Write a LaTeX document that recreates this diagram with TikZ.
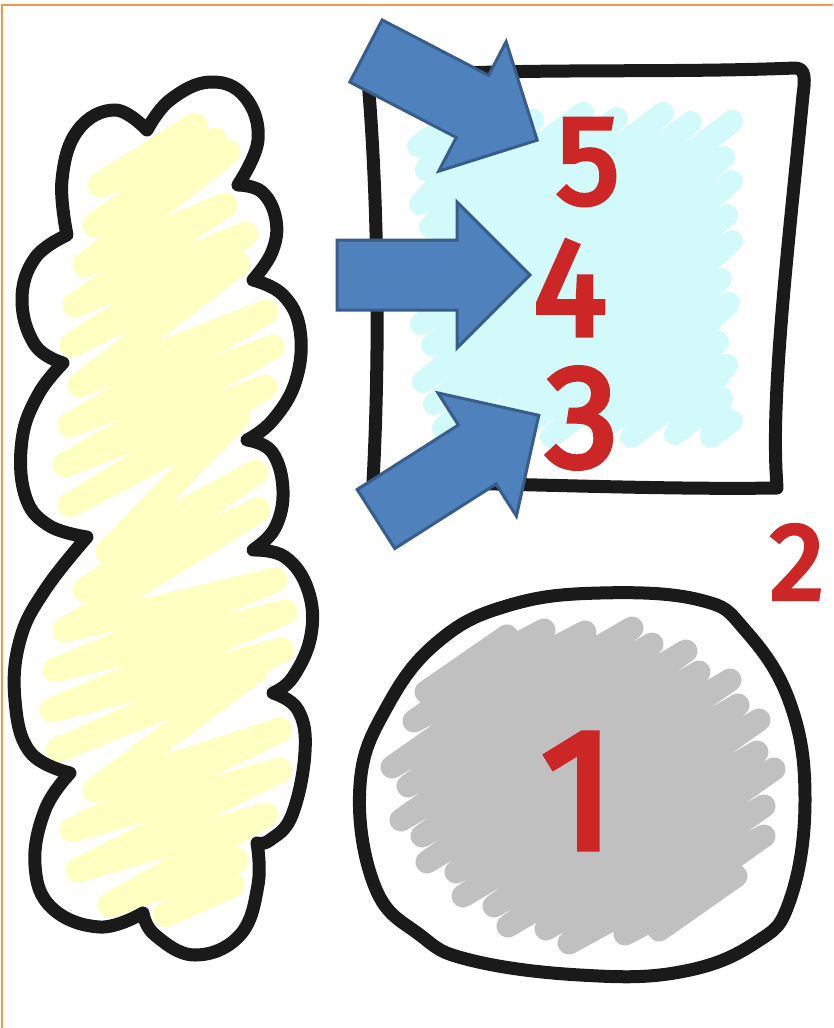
\documentclass[tikz,border=0pt]{standalone}
\usepackage{fontspec}
\setmainfont{Fira Sans}
\newfontfamily\numfont[FakeBold=4]{Fira Sans}
\definecolor{ink}{HTML}{1A1A1A}
\definecolor{frameorange}{HTML}{F79646}
\definecolor{arrowfill}{HTML}{4F81BD}
\definecolor{arrowline}{HTML}{385D8A}
\definecolor{numred}{HTML}{CC2626}
\definecolor{scribyellow}{HTML}{FFFFC2}
\definecolor{scribcyan}{HTML}{D2FAFA}
\definecolor{scribgray}{HTML}{C0C0C0}
\begin{document}
\begin{tikzpicture}[x=1pt,y=-1pt,
  outline/.style={draw=ink, line width=13pt, line join=round, line cap=round},
  scrib/.style={line width=#1, line join=round, line cap=round},
  bigarrow/.style={fill=arrowfill, draw=arrowline, line width=3pt, line join=miter},
  num/.style={text=numred, inner sep=0pt}]
\useasboundingbox (0,0) rectangle (833,1028);
\fill[white] (0,0) rectangle (833,1028);
\draw[frameorange, line width=2pt] (2,1028) -- (2,5) -- (833,5);

% ---------- cloud (left) ----------
\draw[scribyellow, scrib=25pt] (195,125) -- (100,185) -- (215,140) -- (95,225) -- (228,152) -- (85,265)
  -- (225,205) -- (75,305) -- (246,234) -- (72,345) -- (238,264) -- (80,385) -- (266,312) -- (70,425)
  -- (272,347) -- (65,465) -- (265,387) -- (70,505) -- (238,417) -- (108,552) -- (256,472) -- (85,590)
  -- (258,510) -- (65,630) -- (275,580) -- (55,670) -- (285,612) -- (52,710) -- (282,650) -- (58,750)
  -- (256,670) -- (95,790) -- (280,730) -- (72,830) -- (280,770) -- (78,870) -- (266,815) -- (110,905)
  -- (236,860) -- (165,915) -- (232,885);
\draw[outline] (147,130)
  -- plot[smooth, tension=0.7] coordinates {(147,130) (170,100) (210,82) (245,97) (258,140) (238,185)}
  -- plot[smooth, tension=0.7] coordinates {(238,185) (262,192) (276,220) (272,252) (253,280)}
  -- plot[smooth, tension=0.7] coordinates {(253,280) (283,295) (300,330) (296,380) (273,420) (247,440)}
  -- plot[smooth, tension=0.7] coordinates {(247,440) (272,452) (283,490) (275,528) (253,550)}
  -- plot[smooth, tension=0.7] coordinates {(253,550) (285,557) (308,590) (311,635) (293,677) (273,693)}
  -- plot[smooth, tension=0.7] coordinates {(273,693) (298,710) (305,752) (292,815) (270,840) (257,843)}
  -- plot[smooth, tension=0.7] coordinates {(257,843) (258,885) (240,935) (195,955) (155,935) (143,913)}
  -- plot[smooth, tension=0.7] coordinates {(143,913) (100,927) (52,908) (35,865) (45,810) (70,773)}
  -- plot[smooth, tension=0.7] coordinates {(70,773) (30,752) (15,700) (20,640) (45,590) (87,537)}
  -- plot[smooth, tension=0.7] coordinates {(87,537) (48,525) (25,495) (22,440) (38,395) (63,363)}
  -- plot[smooth, tension=0.7] coordinates {(63,363) (35,345) (22,300) (35,258) (67,235)}
  -- plot[smooth, tension=0.7] coordinates {(67,235) (62,180) (78,130) (115,110) (147,130)}
  -- cycle;

% ---------- square (top right) ----------
\draw[scribcyan, scrib=22pt] (418,146) -- (459,116) -- (426,170) -- (503,113) -- (420,204) -- (533,120)
  -- (430,227) -- (583,113) -- (418,266) -- (617,118) -- (428,289) -- (663,113) -- (421,324) -- (691,122)
  -- (432,345) -- (732,121) -- (423,382) -- (724,157) -- (434,404) -- (732,181) -- (443,428) -- (727,215)
  -- (495,419) -- (732,241) -- (519,431) -- (721,279) -- (551,437) -- (729,303) -- (601,430) -- (718,342)
  -- (631,437) -- (727,365) -- (675,434) -- (722,398) -- (711,437) -- (732,421);
\draw[outline] (368,80) .. controls (480,66) and (650,74) .. (795,68)
  .. controls (806,68) and (805,80) .. (803,95)
  .. controls (790,230) and (772,380) .. (776,470) -- (777,488)
  .. controls (650,490) and (480,482) .. (373,482)
  .. controls (380,350) and (378,200) .. (368,80) -- cycle;

% ---------- round shape (bottom right) ----------
\draw[scribgray, scrib=23pt] (507,636) -- (426,692) -- (544,630) -- (414,721) -- (585,632) -- (392,767)
  -- (632,628) -- (408,786) -- (652,644) -- (401,820) -- (686,651) -- (422,836) -- (699,672) -- (427,862)
  -- (730,680) -- (456,872) -- (738,705) -- (463,896) -- (759,720) -- (494,906) -- (757,752) -- (508,926)
  -- (774,769) -- (546,929) -- (764,806) -- (569,943) -- (764,836) -- (625,934) -- (736,876) -- (659,930);
\draw[outline] plot[smooth cycle, tension=0.7] coordinates {(600,593) (700,600) (745,630) (790,703)
  (805,800) (790,900) (755,943) (680,972) (580,975) (470,960) (420,935) (375,887) (360,785) (388,705)
  (440,640) (510,605)};

% ---------- numbers ----------
\node[num, font=\numfont\fontsize{171}{171}\selectfont] (n1) at (578,791) {1};
\node[num, font=\numfont\fontsize{109}{109}\selectfont] (n2) at (797,562) {2};
\node[num, font=\numfont\fontsize{145}{145}\selectfont] (n3) at (582,418) {3};
\node[num, font=\numfont\fontsize{138}{138}\selectfont] (n4) at (570,288) {4};
\node[num, font=\numfont\fontsize{126}{126}\selectfont] (n5) at (588,162) {5};

% ---------- arrows ----------
\begin{scope}[shift={(366,51)}, rotate=-27.5]
  \draw[bigarrow] (0,-35) -- (120,-35) -- (120,-73) -- (193,0) -- (120,73) -- (120,35) -- (0,35) -- cycle;
\end{scope}
\begin{scope}[shift={(337,275)}]
  \draw[bigarrow] (0,-35) -- (120,-35) -- (120,-73) -- (193,0) -- (120,73) -- (120,35) -- (0,35) -- cycle;
\end{scope}
\begin{scope}[shift={(376,519)}, rotate=32.5]
  \draw[bigarrow] (0,-35) -- (120,-35) -- (120,-73) -- (193,0) -- (120,73) -- (120,35) -- (0,35) -- cycle;
\end{scope}
\end{tikzpicture}
\end{document}
